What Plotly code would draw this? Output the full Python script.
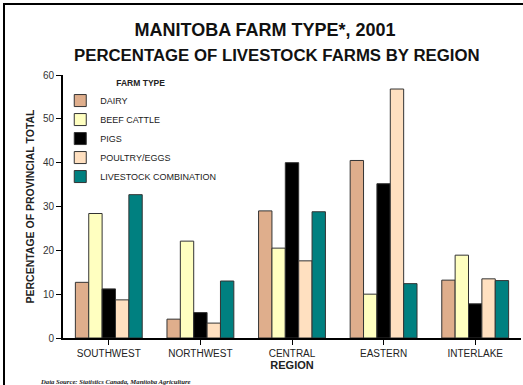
import plotly.graph_objects as go

# Manitoba farm type 2001 - share of livestock farms by region

regions = ["SOUTHWEST", "NORTHWEST", "CENTRAL", "EASTERN", "INTERLAKE"]
dairy = [12.7, 4.3, 29.0, 40.5, 13.2]
beef_cattle = [28.4, 22.1, 20.5, 10.0, 18.9]
pigs = [11.2, 5.8, 40.0, 35.2, 7.8]
poultry_eggs = [8.7, 3.4, 17.6, 56.8, 13.5]
livestock_combo = [32.7, 13.0, 28.8, 12.4, 13.1]

series = [
    ("DAIRY", dairy, "#DFAE8C"),
    ("BEEF CATTLE", beef_cattle, "#FFFFC0"),
    ("PIGS", pigs, "#000000"),
    ("POULTRY/EGGS", poultry_eggs, "#FFE0C0"),
    ("LIVESTOCK COMBINATION", livestock_combo, "#008080"),
]

FONT = "Arial, Liberation Sans, sans-serif"
W, H = 523, 385
L, R, T, B = 63, 2, 75, 47
PW, PH = W - L - R, H - T - B

fig = go.Figure()
for name, vals, col in series:
    fig.add_trace(go.Bar(
        x=regions, y=vals, name=name,
        marker=dict(color=col, line=dict(color="#333333", width=1)),
    ))

fig.update_layout(
    width=W, height=H,
    margin=dict(l=L, r=R, t=T, b=B),
    paper_bgcolor="white", plot_bgcolor="white",
    barmode="group", bargap=0.27, bargroupgap=0,
    font=dict(family=FONT, size=10, color="#222222"),
    showlegend=True,
    legend=dict(
        x=-0.006, y=1.0, xanchor="left", yanchor="top",
        bgcolor="rgba(0,0,0,0)",
        font=dict(size=9, color="#222222"),
        title=dict(text="<b>FARM TYPE</b>", side="top center", font=dict(size=8.5)),
    ),
    title=dict(
        text="<b>MANITOBA FARM TYPE*, 2001</b>",
        xref="container", x=265 / W, xanchor="center",
        yref="container", y=1 - 30 / H, yanchor="middle",
        font=dict(size=18, color="#111111"),
    ),
)

fig.update_xaxes(
    showline=True, linecolor="black", linewidth=2,
    ticks="outside", ticklen=5, tickcolor="black", tickwidth=1,
    tickfont=dict(size=10),
    title=dict(text="<b>REGION</b>", font=dict(size=11), standoff=1),
    showgrid=False,
)
fig.update_yaxes(
    range=[0, 60], dtick=10,
    showline=True, linecolor="black", linewidth=2,
    ticks="outside", ticklen=5, tickcolor="black", tickwidth=1,
    tickfont=dict(size=10, color="#333333"),
    title=dict(text="<b>PERCENTAGE OF PROVINCIAL TOTAL</b>", font=dict(size=10.5), standoff=6),
    showgrid=False, zeroline=False,
)

fig.add_annotation(
    text="<b>PERCENTAGE OF LIVESTOCK FARMS BY REGION</b>",
    xref="paper", yref="paper", x=(277 - L) / PW, y=1 + (T - 56) / PH,
    xanchor="center", yanchor="middle",
    showarrow=False, font=dict(size=16.8, color="#111111"),
)
fig.add_annotation(
    text="<i><b>Data Source: Statistics Canada, Manitoba Agriculture</b></i>",
    xref="paper", yref="paper", x=(38 - L) / PW, y=-(381 - (H - B)) / PH,
    xanchor="left", yanchor="middle",
    showarrow=False, font=dict(size=6.7, family="Liberation Serif, serif", color="#222222"),
)

# outer frame (left and top edges visible)
fig.add_shape(
    type="rect", xref="paper", yref="paper",
    x0=(4 - L) / PW, x1=(W + 10 - L) / PW,
    y0=-(H + 10 - (H - B)) / PH, y1=1 + (T - 4) / PH,
    line=dict(color="black", width=2), fillcolor="rgba(0,0,0,0)",
)

fig.write_html(
    "out.html",
    config={"displayModeBar": False},
    post_script="document.body.style.margin='0';",
)
